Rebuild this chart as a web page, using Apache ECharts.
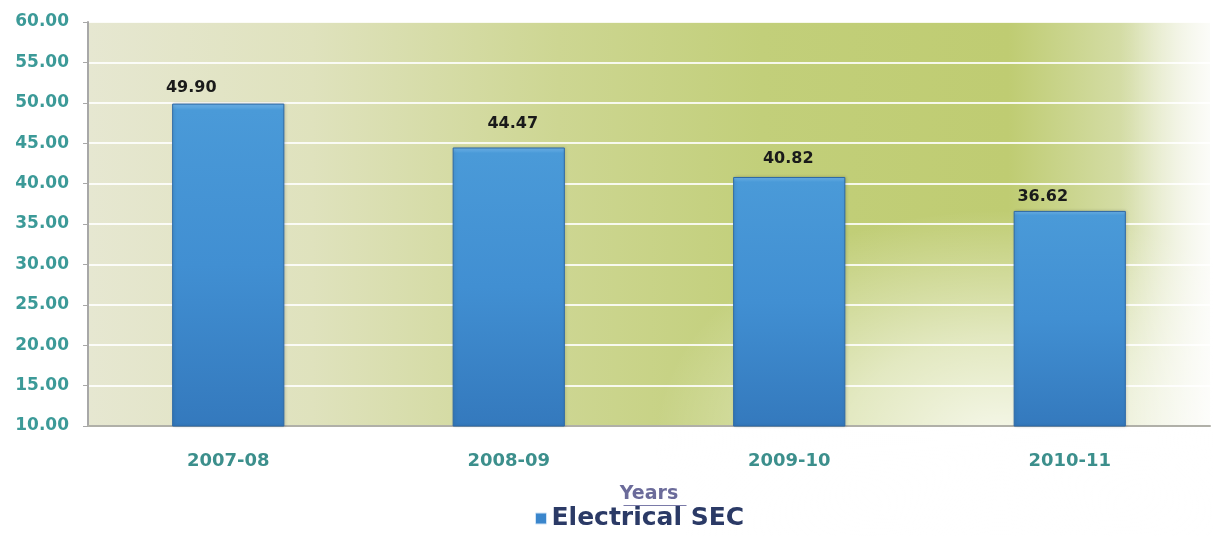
<!DOCTYPE html>
<html><head><meta charset="utf-8">
<script src="https://cdn.jsdelivr.net/npm/echarts@6/dist/echarts.min.js"></script>
<style>html,body{margin:0;padding:0;background:#fff}#c{width:1213px;height:536px}</style>
</head><body><div id="c"></div>
<script>
const categories = ['2007-08', '2008-09', '2009-10', '2010-11'];
const seriesName = 'Electrical SEC';
const values = [49.90, 44.47, 40.82, 36.62];
const axisTitle = 'Years';

// label nudges (style only), as placed in the original picture
const labelNudge = [[-37, -3], [4, -11], [-1, -5], [-27, -1]];

const FONT = 'DejaVu Sans, Liberation Sans, Arial';
const chart = echarts.init(document.getElementById('c'));
const PA = {x: 88, y: 22, width: 1122, height: 404};
chart.setOption({
  animation: false,
  grid: {left: 88, right: 3, top: 22, bottom: 110},
  graphic: [
    {type: 'rect', z: -10, silent: true, shape: PA,
      style: {fill: {type: 'linear', x: 0, y: 0, x2: 1, y2: 0, colorStops: [
        {offset: 0, color: '#e6e7d1'},
        {offset: 0.2, color: '#dfe2bd'},
        {offset: 0.42, color: '#cdd692'},
        {offset: 0.6, color: '#c2cf7a'},
        {offset: 0.82, color: '#bfcc72'},
        {offset: 0.93, color: '#d6deaa'},
        {offset: 1, color: '#f3f4e8'}]}}},
    {type: 'circle', z: -9, silent: true, shape: {cx: 0, cy: 0, r: 230}, x: 1000, y: 440, scaleX: 1.5, scaleY: 1,
      style: {fill: {type: 'radial', x: 0.5, y: 0.5, r: 0.5, colorStops: [
        {offset: 0, color: 'rgba(255,255,255,0.85)'}, {offset: 0.45, color: 'rgba(255,255,255,0.55)'}, {offset: 1, color: 'rgba(255,255,255,0)'}]}}},
    {type: 'rect', z: -8, silent: true, shape: {x: 1120, y: 22, width: 90, height: 404},
      style: {fill: {type: 'linear', x: 0, y: 0, x2: 1, y2: 0, colorStops: [
        {offset: 0, color: 'rgba(255,255,255,0)'}, {offset: 1, color: 'rgba(255,255,255,0.7)'}]}}},
    {type: 'line', left: 621, top: 503, shape: {x1: 0, y1: 0, x2: 63, y2: 0}, style: {stroke: '#7a7aa8', lineWidth: 1}}
  ],
  legend: {
    bottom: 0, left: 530, icon: 'rect', itemWidth: 11, itemHeight: 11, itemGap: 4,
    textStyle: {color: '#2b3a66', fontSize: 25, fontWeight: 'bold', fontFamily: FONT},
    itemStyle: {color: '#3a86cc', borderColor: '#cfe3f6', borderWidth: 1},
    data: [seriesName]
  },
  xAxis: {
    type: 'category', data: categories,
    name: axisTitle, nameLocation: 'middle', nameGap: 59,
    nameTextStyle: {color: '#6b6b9a', fontSize: 19, fontWeight: 'bold', fontFamily: FONT},
    axisLine: {show: true, lineStyle: {color: '#b0b0a8', width: 2}},
    axisTick: {show: false},
    axisLabel: {color: '#3c8f8c', fontSize: 18, fontWeight: 'bold', margin: 26, fontFamily: FONT}
  },
  yAxis: {
    type: 'value', min: 10, max: 60, interval: 5,
    axisLine: {show: true, lineStyle: {color: '#a8a8a8', width: 2}},
    axisTick: {show: true, length: 5, lineStyle: {color: '#a8a8a8'}},
    axisLabel: {color: '#3c9a98', fontSize: 17, fontWeight: 'bold', margin: 19, fontFamily: FONT,
      formatter: v => v.toFixed(2)},
    splitLine: {show: true, lineStyle: {color: 'rgba(255,255,255,0.85)', width: 2}}
  },
  series: [{
    name: seriesName, type: 'bar', barWidth: '40%',
    data: values.map((v, i) => ({value: v, label: {offset: labelNudge[i]}})),
    itemStyle: {
      color: {type: 'linear', x: 0, y: 0, x2: 0, y2: 1, colorStops: [
        {offset: 0, color: '#6fb3e8'}, {offset: 0.02, color: '#4a9ad8'}, {offset: 0.5, color: '#418fd2'}, {offset: 1, color: '#3479bd'}
      ]},
      borderColor: '#2d68a6', borderWidth: 1,
      shadowColor: 'rgba(0,0,0,0.15)', shadowBlur: 3, shadowOffsetX: 1
    },
    label: {
      show: true, position: 'top', distance: 5,
      formatter: p => p.value.toFixed(2),
      color: '#1a1a1a', fontSize: 16, fontWeight: 'bold', fontFamily: FONT
    }
  }]
});
</script>
</body></html>
